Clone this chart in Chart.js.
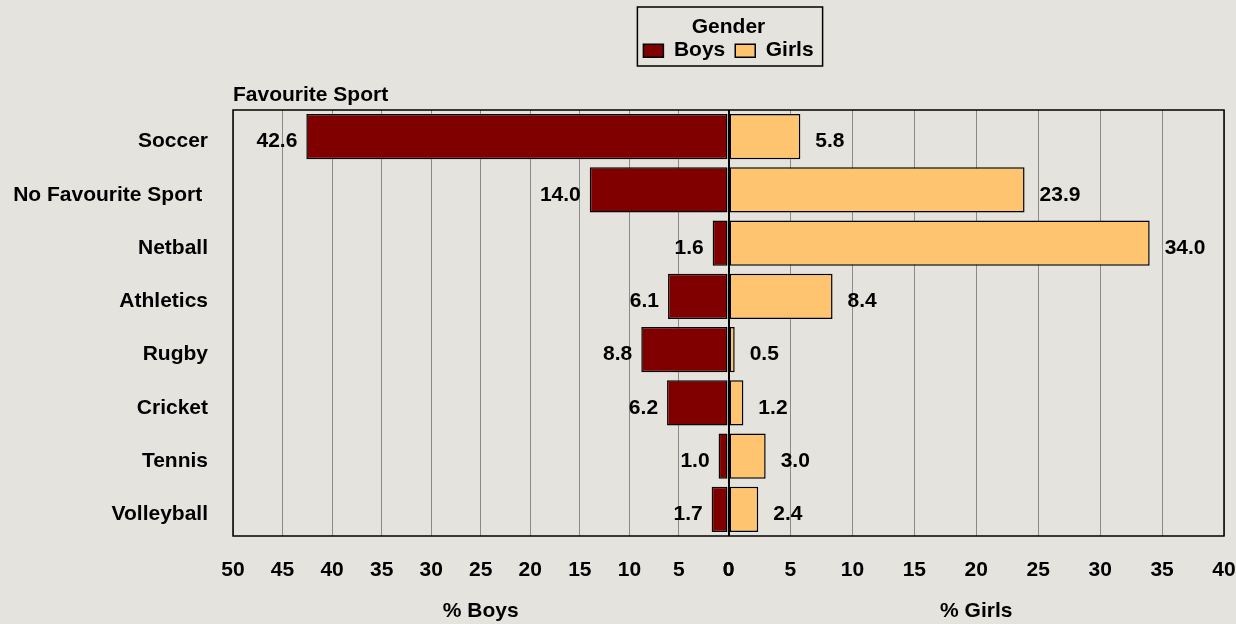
<!DOCTYPE html>
<html>
<head>
<meta charset="utf-8">
<script src="https://cdn.jsdelivr.net/npm/chart.js@4.4.1/dist/chart.umd.min.js"></script>
<style>
html,body{margin:0;padding:0;background:#e5e3dd;}
#wrap{width:1236px;height:624px;position:relative;}
canvas{display:block;}
</style>
</head>
<body>
<div id="wrap"><canvas id="c" width="1236" height="624"></canvas></div>
<script>
// ---- data ----
const categories = ['Soccer', 'No Favourite Sport ', 'Netball', 'Athletics', 'Rugby', 'Cricket', 'Tennis', 'Volleyball'];
const boys  = [42.6, 14.0, 1.6, 6.1, 8.8, 6.2, 1.0, 1.7];
const girls = [5.8, 23.9, 34.0, 8.4, 0.5, 1.2, 3.0, 2.4];
const seriesNames = ['Boys', 'Girls'];
const legendTitle = 'Gender';
const categoryTitle = 'Favourite Sport';
const boysAxisTitle = '% Boys';
const girlsAxisTitle = '% Girls';
const boysAxisMax = 50;
const girlsAxisMax = 40;
const tickStep = 5;

// ---- style ----
const FONT_FAMILY = "'Liberation Sans', Arial, Helvetica, sans-serif";
const F = {family: FONT_FAMILY, size: 21, weight: 'bold'};
const BOYS_COLOR = '#800000';
const GIRLS_COLOR = '#ffc46f';

Chart.defaults.font.family = FONT_FAMILY;
Chart.defaults.color = '#000';

const legendSpace = {
  id: 'legendSpace',
  beforeInit(chart) {
    const orig = chart.legend.fit;
    chart.legend.fit = function () {
      orig.call(this);
      this.height = 110;
    };
  }
};

const decorations = {
  id: 'decorations',
  beforeDatasetsDraw(chart) {
    const {ctx, chartArea: a} = chart;
    ctx.save();
    ctx.strokeStyle = '#000';
    ctx.lineWidth = 1.5;
    ctx.strokeRect(a.left, a.top, a.right - a.left, a.bottom - a.top);
    ctx.restore();
  },
  afterDatasetsDraw(chart) {
    const {ctx, chartArea: a} = chart;
    ctx.save();
    ctx.font = `bold ${F.size}px ${FONT_FAMILY}`;
    ctx.fillStyle = '#000';
    ctx.textBaseline = 'middle';
    chart.data.datasets.forEach((ds, di) => {
      const meta = chart.getDatasetMeta(di);
      meta.data.forEach((el, i) => {
        const txt = ds.data[i].toFixed(1);
        if (di === 0) {
          ctx.textAlign = 'right';
          ctx.fillText(txt, el.x - 9, el.y + 5);
        } else {
          ctx.textAlign = 'left';
          ctx.fillText(txt, el.x + 15, el.y + 5);
        }
      });
    });
    ctx.textAlign = 'left';
    ctx.textBaseline = 'alphabetic';
    ctx.fillText(categoryTitle, a.left, a.top - 9);
    ctx.restore();
  },
  afterDraw(chart) {
    const lg = chart.legend;
    if (!lg || !lg.legendHitBoxes || !lg.legendHitBoxes.length) return;
    let l = Infinity, r = -Infinity;
    lg.legendHitBoxes.forEach(h => { l = Math.min(l, h.left); r = Math.max(r, h.left + h.width); });
    const ctx = chart.ctx;
    ctx.save();
    ctx.strokeStyle = '#000';
    ctx.lineWidth = 1.5;
    ctx.strokeRect(l - 6, lg.top + 7, (r - l) + 15, 59);
    ctx.restore();
  }
};

const gridColor = c => (c.tick && c.tick.value === 0) ? '#000' : '#8a8a8a';
const gridWidth = c => (c.tick && c.tick.value === 0) ? 2 : 1;
const xFit = s => { s.height = 88; s.paddingRight = 12; s.paddingLeft = 12; };

new Chart(document.getElementById('c'), {
  type: 'bar',
  data: {
    labels: categories,
    datasets: [
      {label: seriesNames[0], data: boys, xAxisID: 'xb', yAxisID: 'y',
       backgroundColor: BOYS_COLOR, borderColor: '#000', borderWidth: 1.5, borderSkipped: false},
      {label: seriesNames[1], data: girls, xAxisID: 'xg', yAxisID: 'y',
       backgroundColor: GIRLS_COLOR, borderColor: '#000', borderWidth: 1.5, borderSkipped: false}
    ]
  },
  options: {
    indexAxis: 'y',
    responsive: false,
    animation: false,
    devicePixelRatio: 1,
    grouped: false,
    barPercentage: 0.85,
    categoryPercentage: 1,
    layout: {padding: {left: 12, right: 0, top: 0, bottom: 0}},
    scales: {
      y: {
        type: 'category',
        grid: {display: false, drawTicks: false},
        border: {display: false},
        ticks: {font: F, color: '#000', padding: 25, labelOffset: 5},
        afterFit: s => { s.width = 221; }
      },
      xb: {
        type: 'linear', position: 'bottom', stack: 'x', stackWeight: 1,
        reverse: true, min: 0, max: boysAxisMax,
        grid: {drawTicks: false, color: gridColor, lineWidth: gridWidth},
        border: {display: false},
        ticks: {stepSize: tickStep, font: F, color: '#000', padding: 22, maxRotation: 0, autoSkip: false},
        title: {display: true, text: boysAxisTitle, font: F, color: '#000', padding: {top: 12, bottom: 0}},
        afterFit: xFit
      },
      xg: {
        type: 'linear', position: 'bottom', stack: 'x', stackWeight: 1,
        min: 0, max: girlsAxisMax,
        grid: {drawTicks: false, color: gridColor, lineWidth: gridWidth},
        border: {display: false},
        ticks: {stepSize: tickStep, font: F, color: '#000', padding: 22, maxRotation: 0, autoSkip: false},
        title: {display: true, text: girlsAxisTitle, font: F, color: '#000', padding: {top: 12, bottom: 0}},
        afterFit: xFit
      }
    },
    plugins: {
      legend: {
        display: true,
        position: 'top',
        fullSize: false,
        title: {display: true, text: legendTitle, font: F, color: '#000', padding: {top: 17, bottom: -12}},
        labels: {font: F, color: '#000', boxWidth: 20, boxHeight: 13, padding: 10}
      },
      tooltip: {enabled: false}
    }
  },
  plugins: [legendSpace, decorations]
});
</script>
</body>
</html>
